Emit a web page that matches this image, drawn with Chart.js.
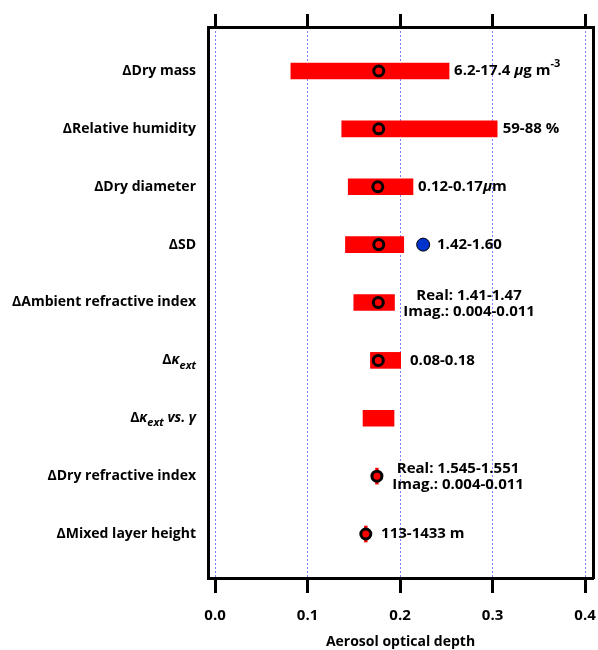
<!DOCTYPE html>
<html>
<head>
<meta charset="utf-8">
<script src="https://cdn.jsdelivr.net/npm/chart.js@4/dist/chart.umd.min.js"></script>
<style>
  body { margin: 0; background: #fff; overflow: hidden; }
  #wrap { width: 598px; height: 650px; overflow: hidden; }
</style>
</head>
<body>
<!-- el lienzo es algo más ancho: la etiqueta 0.4 queda recortada como en el original -->
<div id="wrap"><canvas id="grafica" width="601" height="650"></canvas></div>
<script>
// Datos
const categorias = ['ΔDry mass', 'ΔRelative humidity', 'ΔDry diameter', 'ΔSD',
    'ΔAmbient refractive index', 'Δκext', 'Δκext vs. γ', 'ΔDry refractive index', 'ΔMixed layer height'];
const aodMin = [0.082, 0.137, 0.144, 0.141, 0.150, 0.168, 0.160, 0.1735, 0.1615];
const aodMax = [0.253, 0.305, 0.214, 0.204, 0.194, 0.2007, 0.1935, 0.1765, 0.1645];
const aodCentral = [0.177, 0.177, 0.176, 0.177, 0.1765, 0.1765, null, 0.175, 0.163];
const aodSdAlterno = [null, null, null, 0.225, null, null, null, null, null];
const xTicks = [0, 0.1, 0.2, 0.3, 0.4];
// texto de rango y dónde empieza (unidades de AOD)
const rangoTexto = [
    [{t: '6.2-17.4 '}, {t: 'μ', i: true}, {t: 'g m'}, {t: '-3', sup: true}],
    [{t: '59-88 %'}],
    [{t: '0.12-0.17'}, {t: 'μ', i: true}, {t: 'm'}],
    [{t: '1.42-1.60'}],
    null,
    [{t: '0.08-0.18'}],
    null,
    null,
    [{t: '113-1433 m'}]
];
const rangoX = [0.2584, 0.311, 0.2195, 0.240, null, 0.2108, null, null, 0.1795];
// textos de dos líneas (centrados)
const rangoDoble = [
    {fila: 4, x: 0.2746, lineas: ['Real: 1.41-1.47', 'Imag.: 0.004-0.011']},
    {fila: 7, x: 0.2627, lineas: ['Real: 1.545-1.551', 'Imag.: 0.004-0.011']}
];

const FUENTE = '"Open Sans", "DejaVu Sans", sans-serif';
const yMin = -0.76, yMax = 8.76, xMin = -0.0076, xMax = 0.4086;

// etiquetas con partes en cursiva / subíndice
const etiquetasRich = categorias.map((c, i) => {
    if (i === 5) return [{t: 'Δ'}, {t: 'κ', i: true}, {t: 'ext', i: true, sub: true}];
    if (i === 6) return [{t: 'Δ'}, {t: 'κ', i: true}, {t: 'ext', i: true, sub: true}, {t: ' vs. γ', i: true}];
    return [{t: c}];
});

function fuenteSeg(s, size) {
    const sz = (s.sub || s.sup) ? Math.round(size * 0.75) : size;
    return (s.i ? 'italic ' : '') + '700 ' + sz + 'px ' + FUENTE;
}

function dibujarRich(ctx, segs, x, y, align, size) {
    let ancho = 0;
    segs.forEach(s => { ctx.font = fuenteSeg(s, size); ancho += ctx.measureText(s.t).width; });
    let cx = align === 'right' ? x - ancho : (align === 'center' ? x - ancho / 2 : x);
    ctx.textAlign = 'left';
    ctx.textBaseline = 'middle';
    segs.forEach(s => {
        ctx.font = fuenteSeg(s, size);
        let dy = 0;
        if (s.sub) dy = 5;
        if (s.sup) dy = -7;
        ctx.fillText(s.t, cx, y + dy);
        cx += ctx.measureText(s.t).width;
    });
}

const pluginTextos = {
    id: 'textos',
    afterDraw(chart) {
        const ctx = chart.ctx;
        const xs = chart.scales.x, ys = chart.scales.y;
        ctx.save();
        ctx.fillStyle = '#000';
        etiquetasRich.forEach((segs, i) => {
            dibujarRich(ctx, segs, 196, ys.getPixelForValue(i), 'right', 14);
        });
        rangoTexto.forEach((segs, i) => {
            if (!segs) return;
            dibujarRich(ctx, segs, xs.getPixelForValue(rangoX[i]), ys.getPixelForValue(i), 'left', 15);
        });
        rangoDoble.forEach(r => {
            const y = ys.getPixelForValue(r.fila);
            dibujarRich(ctx, [{t: r.lineas[0]}], xs.getPixelForValue(r.x), y - 7, 'center', 15);
            dibujarRich(ctx, [{t: r.lineas[1]}], xs.getPixelForValue(r.x), y + 9, 'center', 15);
        });
        ctx.restore();
    }
};

function sinPadding(s, alto) {
    s.height = alto;
    s.paddingLeft = 0;
    s.paddingRight = 0;
}

const ejeX = {
    type: 'linear', min: xMin, max: xMax, offset: false,
    afterBuildTicks: s => { s.ticks = xTicks.map(v => ({value: v})); }
};

new Chart(document.getElementById('grafica').getContext('2d'), {
    data: {
        datasets: [
            {
                type: 'bar',
                indexAxis: 'y',
                order: 2,
                data: categorias.map((c, i) => ({y: i, x: [aodMin[i], aodMax[i]]})),
                backgroundColor: '#ff0000',
                borderWidth: 0,
                borderSkipped: false,
                barThickness: 16,
                xAxisID: 'x', yAxisID: 'y'
            },
            {
                type: 'scatter',
                order: 1,
                data: aodCentral.map((v, i) => ({x: v, y: i})).filter(p => p.x !== null),
                pointRadius: 5,
                pointBorderWidth: 3,
                pointBorderColor: '#000',
                pointBackgroundColor: aodCentral.filter(v => v !== null).map((v, k) => k >= 6 ? '#ff0000' : 'rgba(0,0,0,0)'),
                xAxisID: 'x', yAxisID: 'y'
            },
            {
                type: 'scatter',
                order: 0,
                data: aodSdAlterno.map((v, i) => ({x: v, y: i})).filter(p => p.x !== null),
                pointRadius: 6.5,
                pointBorderWidth: 1,
                pointBorderColor: '#000',
                pointBackgroundColor: '#0033cc',
                xAxisID: 'x', yAxisID: 'y'
            }
        ]
    },
    options: {
        responsive: false,
        animation: false,
        layout: {padding: 0},
        plugins: {legend: {display: false}, tooltip: {enabled: false}},
        scales: {
            x: Object.assign({}, ejeX, {
                position: 'bottom',
                ticks: {
                    callback: v => v.toFixed(1),
                    color: '#000',
                    font: {family: FUENTE, size: 15, weight: '700'},
                    padding: 14,
                    maxRotation: 0,
                    autoSkip: false
                },
                grid: {offset: false, color: '#7f7fff', lineWidth: 1, tickColor: '#000', tickWidth: 3, tickLength: 15, tickBorderDash: []},
                border: {color: '#000', width: 3, dash: [2, 2]},
                title: {
                    display: true, text: 'Aerosol optical depth', color: '#000',
                    font: {family: FUENTE, size: 14, weight: '700'},
                    padding: {top: 2, bottom: 0}
                },
                afterFit: s => sinPadding(s, 72)
            }),
            x2: Object.assign({}, ejeX, {
                position: 'top',
                ticks: {display: false},
                grid: {offset: false, drawOnChartArea: false, tickColor: '#000', tickWidth: 3, tickLength: 13},
                border: {color: '#000', width: 3},
                afterFit: s => sinPadding(s, 27)
            }),
            y: {
                type: 'linear', position: 'left', min: yMin, max: yMax, reverse: true,
                offset: false,
                ticks: {display: false},
                grid: {offset: false, display: false, drawTicks: false},
                border: {color: '#000', width: 3},
                afterFit: s => { s.width = 208; }
            },
            y2: {
                type: 'linear', position: 'right', min: yMin, max: yMax, reverse: true,
                offset: false,
                ticks: {display: false},
                grid: {offset: false, display: false, drawTicks: false},
                border: {color: '#000', width: 3},
                afterFit: s => { s.width = 2; }
            }
        }
    },
    plugins: [pluginTextos]
});
</script>
</body>
</html>
